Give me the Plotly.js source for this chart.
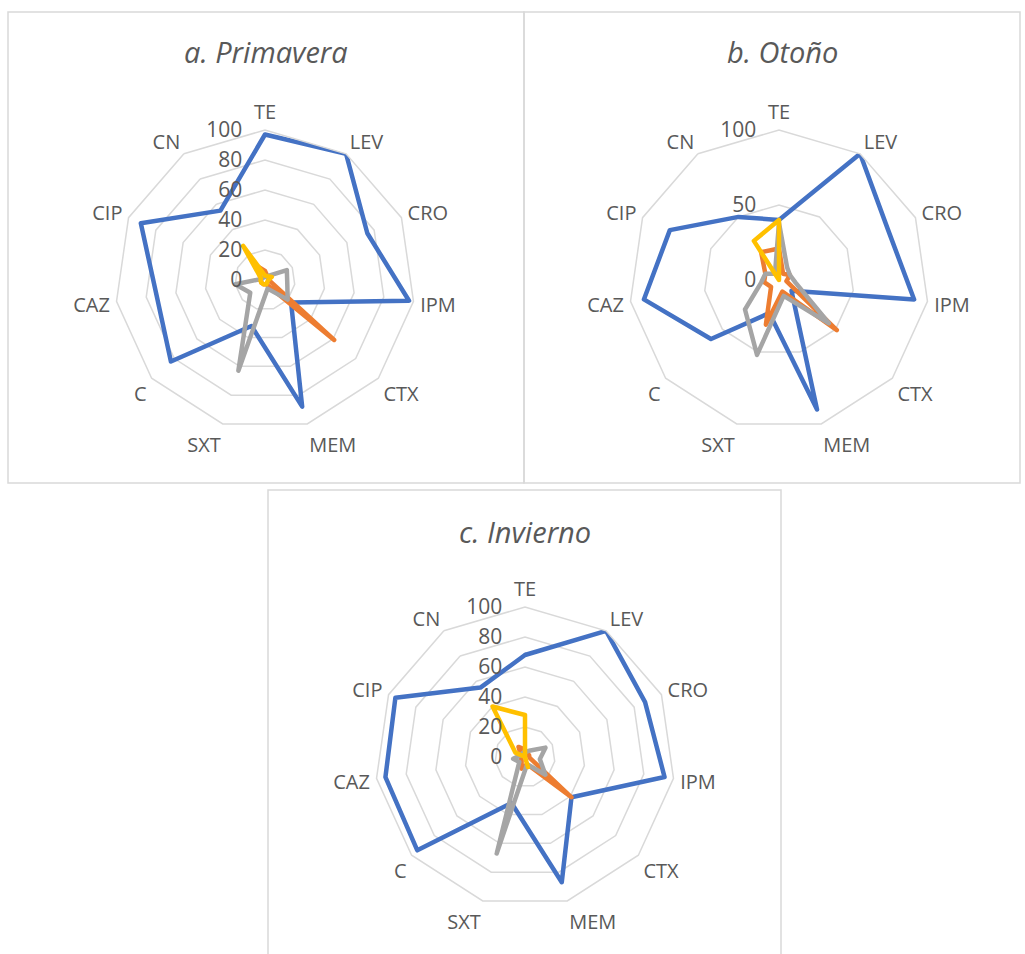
<!DOCTYPE html>
<html>
<head>
<meta charset="utf-8">
<script src="https://cdn.plot.ly/plotly-3.0.1.min.js"></script>
<style>
  html, body { margin: 0; padding: 0; background: #ffffff; }
  #chart { width: 1025px; height: 954px; }
  /* rounded corners on the series outlines */
  #chart path.js-line { stroke-linejoin: round; stroke-linecap: round; }
</style>
</head>
<body>
<div id="chart"></div>
<script>
// Antibiotic categories, clockwise from the top
const categories = ['TE', 'LEV', 'CRO', 'IPM', 'CTX', 'MEM', 'SXT', 'C', 'CAZ', 'CIP', 'CN'];

// a. Primavera
const primaveraAzul     = [97, 100, 75, 97, 23, 88, 32, 83, 73, 91, 55];
const primaveraNaranja  = [6, 3, 3, 3, 61, 3, 3, 3, 3, 3, 12];
const primaveraGris     = [2, 3, 16, 15, 20, 6, 63, 13, 20, 2, 2];
const primaveraAmarillo = [3, 3, 5, 2, 2, 3, 3, 3, 3, 3, 27];

// b. Otoño
const otonoAzul     = [40, 100, 80, 91, 11, 90, 23, 60, 91, 80, 50];
const otonoNaranja  = [21, 5, 8, 5, 51, 8, 31, 7, 10, 10, 22];
const otonoGris     = [38, 10, 8, 11, 44, 11, 52, 30, 12, 10, 5];
const otonoAmarillo = [40, 0, 0, 0, 0, 0, 0, 0, 0, 0, 31];

// c. Invierno
const inviernoAzul     = [68, 100, 88, 94, 41, 87, 32, 95, 94, 95, 55];
const inviernoNaranja  = [5, 3, 3, 3, 41, 5, 8, 3, 3, 3, 8];
const inviernoGris     = [3, 5, 15, 10, 18, 5, 67, 5, 8, 3, 3];
const inviernoAmarillo = [28, 0, 0, 0, 0, 7, 0, 0, 0, 7, 40];

// Panel titles
const panelTitles = ['a. Primavera', 'b. Otoño', 'c. Invierno'];

const seriesColors = ['#4472C4', '#ED7D31', '#A5A5A5', '#FFC000'];
const textColor = '#595959';
const gridColor = '#D9D9D9';
const fontFamily = '"Open Sans", "Noto Sans", sans-serif';

const W = 1025, H = 954;
const px = x => x / W;
const py = y => 1 - y / H;

function closed(arr) { return arr.concat([arr[0]]); }

const panels = [
  { subplot: 'polar',  series: [primaveraAzul, primaveraNaranja, primaveraGris, primaveraAmarillo] },
  { subplot: 'polar2', series: [otonoAzul, otonoNaranja, otonoGris, otonoAmarillo] },
  { subplot: 'polar3', series: [inviernoAzul, inviernoNaranja, inviernoGris, inviernoAmarillo] }
];

const traces = [];
panels.forEach(p => {
  p.series.forEach((vals, i) => {
    traces.push({
      type: 'scatterpolar',
      mode: 'lines',
      subplot: p.subplot,
      r: closed(vals),
      theta: closed(categories),
      line: { color: seriesColors[i], width: 4.5 },
      hoverinfo: 'skip',
      showlegend: false,
      cliponaxis: false
    });
  });
});

function polarLayout(cx, cy, radius, dtick) {
  return {
    domain: {
      x: [px(cx - radius), px(cx + radius)],
      y: [py(cy + radius), py(cy - radius)]
    },
    bgcolor: 'rgba(0,0,0,0)',
    gridshape: 'linear',
    radialaxis: {
      range: [0, 100],
      tick0: 0,
      dtick: dtick,
      angle: 90,
      side: 'counterclockwise',
      tickangle: 90,
      showline: false,
      ticks: 'outside',
      ticklen: 15,
      tickcolor: 'rgba(0,0,0,0)',
      showgrid: true,
      gridcolor: gridColor,
      gridwidth: 1.5,
      tickfont: { family: fontFamily, size: 21, color: textColor }
    },
    angularaxis: {
      type: 'category',
      categoryarray: categories,
      direction: 'clockwise',
      rotation: 90,
      showgrid: false,
      showline: true,
      linecolor: gridColor,
      linewidth: 1.5,
      ticks: 'outside',
      ticklen: 2,
      tickcolor: 'rgba(0,0,0,0)',
      tickfont: { family: fontFamily, size: 20, color: textColor }
    }
  };
}

function frame(x0, y0, x1, y1) {
  return {
    type: 'rect', xref: 'paper', yref: 'paper',
    x0: px(x0), x1: px(x1), y0: py(y1), y1: py(y0),
    line: { color: gridColor, width: 1.5 },
    fillcolor: 'rgba(0,0,0,0)', layer: 'below'
  };
}

function title(text, x, y) {
  return {
    text: text, xref: 'paper', yref: 'paper',
    x: px(x), y: py(y), xanchor: 'center', yanchor: 'middle',
    showarrow: false,
    font: { family: fontFamily, size: 29, color: textColor, style: 'italic' }
  };
}

const layout = {
  width: W,
  height: H,
  margin: { l: 0, r: 0, t: 0, b: 0 },
  paper_bgcolor: '#ffffff',
  showlegend: false,
  font: { family: fontFamily, color: textColor },
  polar:  polarLayout(265, 280, 150, 20),
  polar2: polarLayout(779, 280, 150, 50),
  polar3: polarLayout(525, 757, 150, 20),
  shapes: [
    frame(8, 12, 524, 483),
    frame(524, 12, 1020, 483),
    frame(268, 490, 781, 960)
  ],
  annotations: [
    title(panelTitles[0], 266, 52),
    title(panelTitles[1], 782, 52),
    title(panelTitles[2], 525, 531)
  ]
};

Plotly.newPlot('chart', traces, layout, { staticPlot: true, displayModeBar: false });
</script>
</body>
</html>
